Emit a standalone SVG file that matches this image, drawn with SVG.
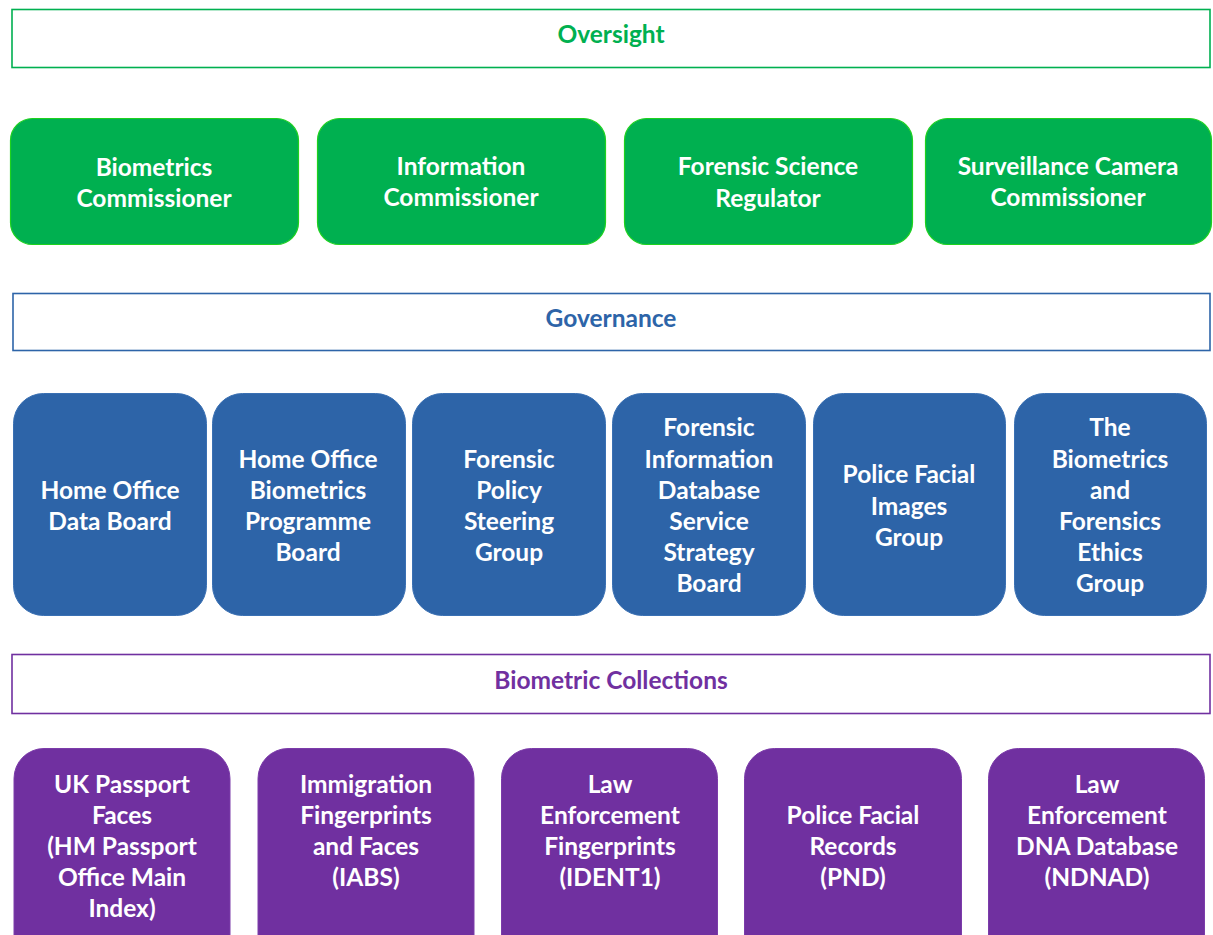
<svg xmlns="http://www.w3.org/2000/svg" width="1213" height="935" viewBox="0 0 1213 935">
<style>
.hdr{fill:#fff;stroke-width:1.6}
.t{font-family:Lato,"Liberation Sans",sans-serif;font-weight:bold;font-size:24.5px;text-anchor:middle}
.w{fill:#fff}
.g{fill:#00b050;stroke:#1ed21e;stroke-width:1.2}
.b{fill:#2d64a8;stroke:#3a70b3;stroke-width:1}
.p{fill:#7030a0;stroke:#7c3caa;stroke-width:1}
</style>
<rect width="1213" height="935" fill="#fff"/>
<g id="oversight">
<rect class="hdr" x="12" y="9.5" width="1198" height="58" stroke="#00b050"/>
<text class="t" x="611" y="43" fill="#00b050">Oversight</text>
</g>
<g id="biometrics-commissioner"><rect class="g" x="10.5" y="118.5" width="288" height="126" rx="22"/>
<text class="t w" x="154" y="176">Biometrics</text><text class="t w" x="154" y="207">Commissioner</text></g>
<g id="information-commissioner"><rect class="g" x="317.5" y="118.5" width="288" height="126" rx="22"/>
<text class="t w" x="461" y="175">Information</text><text class="t w" x="461" y="206">Commissioner</text></g>
<g id="forensic-science-regulator"><rect class="g" x="624.5" y="118.5" width="288" height="126" rx="22"/>
<text class="t w" x="768" y="175">Forensic Science</text><text class="t w" x="768" y="207">Regulator</text></g>
<g id="surveillance-camera-commissioner"><rect class="g" x="925.5" y="118.5" width="286" height="126" rx="22"/>
<text class="t w" x="1068" y="175">Surveillance Camera</text><text class="t w" x="1068" y="206">Commissioner</text></g>

<g id="governance">
<rect class="hdr" x="13" y="293.5" width="1197" height="57" stroke="#2d64a8"/>
<text class="t" x="611" y="327" fill="#2d64a8">Governance</text>
</g>
<g id="ho-data-board"><rect class="b" x="13.5" y="393.5" width="193" height="222" rx="30"/>
<text class="t w" x="110" y="499">Home Office</text><text class="t w" x="110" y="530">Data Board</text></g>
<g id="ho-biometrics-programme-board"><rect class="b" x="212.5" y="393.5" width="193" height="222" rx="30"/>
<text class="t w" x="308" y="468">Home Office</text><text class="t w" x="308" y="499">Biometrics</text><text class="t w" x="308" y="530">Programme</text><text class="t w" x="308" y="561">Board</text></g>
<g id="forensic-policy-steering-group"><rect class="b" x="412.5" y="393.5" width="193" height="222" rx="30"/>
<text class="t w" x="509" y="468">Forensic</text><text class="t w" x="509" y="499">Policy</text><text class="t w" x="509" y="530">Steering</text><text class="t w" x="509" y="561">Group</text></g>
<g id="fids-strategy-board"><rect class="b" x="612.5" y="393.5" width="193" height="222" rx="30"/>
<text class="t w" x="709" y="436">Forensic</text><text class="t w" x="709" y="468">Information</text><text class="t w" x="709" y="499">Database</text><text class="t w" x="709" y="530">Service</text><text class="t w" x="709" y="561">Strategy</text><text class="t w" x="709" y="592">Board</text></g>
<g id="police-facial-images-group"><rect class="b" x="813.5" y="393.5" width="192" height="222" rx="30"/>
<text class="t w" x="909" y="483">Police Facial</text><text class="t w" x="909" y="515">Images</text><text class="t w" x="909" y="546">Group</text></g>
<g id="biometrics-forensics-ethics-group"><rect class="b" x="1014.5" y="393.5" width="192" height="222" rx="30"/>
<text class="t w" x="1110" y="436">The</text><text class="t w" x="1110" y="468">Biometrics</text><text class="t w" x="1110" y="499">and</text><text class="t w" x="1110" y="530">Forensics</text><text class="t w" x="1110" y="561">Ethics</text><text class="t w" x="1110" y="592">Group</text></g>

<g id="biometric-collections">
<rect class="hdr" x="12" y="654.5" width="1198" height="59" stroke="#7030a0"/>
<text class="t" x="611" y="689" fill="#7030a0">Biometric Collections</text>
</g>
<g id="uk-passport-faces"><rect class="p" x="14" y="748.5" width="216" height="220" rx="30"/>
<text class="t w" x="122" y="793">UK Passport</text><text class="t w" x="122" y="824">Faces</text><text class="t w" x="122" y="855">(HM Passport</text><text class="t w" x="122" y="886">Office Main</text><text class="t w" x="122" y="917">Index)</text></g>
<g id="iabs"><rect class="p" x="258" y="748.5" width="216" height="220" rx="30"/>
<text class="t w" x="366" y="793">Immigration</text><text class="t w" x="366" y="824">Fingerprints</text><text class="t w" x="366" y="855">and Faces</text><text class="t w" x="366" y="886">(IABS)</text></g>
<g id="ident1"><rect class="p" x="501.5" y="748.5" width="216" height="220" rx="30"/>
<text class="t w" x="610" y="793">Law</text><text class="t w" x="610" y="824">Enforcement</text><text class="t w" x="610" y="855">Fingerprints</text><text class="t w" x="610" y="886">(IDENT1)</text></g>
<g id="pnd"><rect class="p" x="744.5" y="748.5" width="217" height="220" rx="30"/>
<text class="t w" x="853" y="824">Police Facial</text><text class="t w" x="853" y="855">Records</text><text class="t w" x="853" y="886">(PND)</text></g>
<g id="ndnad"><rect class="p" x="988.5" y="748.5" width="216" height="220" rx="30"/>
<text class="t w" x="1097" y="793">Law</text><text class="t w" x="1097" y="824">Enforcement</text><text class="t w" x="1097" y="855">DNA Database</text><text class="t w" x="1097" y="886">(NDNAD)</text></g>
<g id="connectors"/>
</svg>
